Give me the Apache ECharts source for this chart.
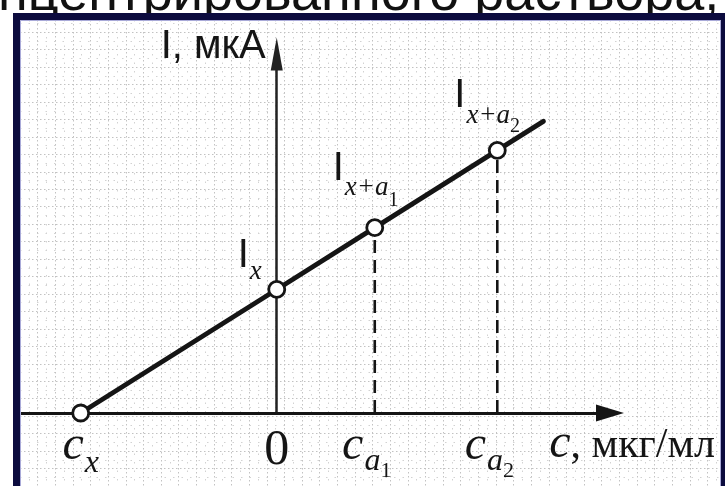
<!DOCTYPE html>
<html><head><meta charset="utf-8">
<script src="https://cdn.jsdelivr.net/npm/echarts@6/dist/echarts.min.js"></script>
<style>html,body{margin:0;padding:0;background:#fff;overflow:hidden}#c{width:725px;height:486px}</style>
</head><body><div id="c"></div>
<script>
// ---- data ----
const pointC = [-2, 0, 1, 2.25];          // concentration of marked points
const pointI = [0, 2, 3, 4.25];           // current of marked points
const lineEnd = [2.72, 4.72];             // end of the calibration line
const tickLabels = ['{c|c}{x|x}', '{z|0}', '{c|c}{a|a}{n|1}{sp|}', '{c|c}{a|a}{n|2}{sp|}'];
const pointLabels = ['', '{I|I}{s|x}', '{I|I}{s|x+a}{n|1}', '{I|I}{s|x+a}{n|2}'];
const yName = 'I, мкА';
const xName = '{c|c}{t|, мкг/мл}';
const headerText = 'нцентрированного раствора,';

// ---- styles ----
const INK = '#151515';
const SERIF = 'Liberation Serif';
const SANS = 'Liberation Sans';
const labelOffsets = [[0, 0], [-39, -53], [-42, -79], [-43, -74]];
const subPad = [0, 22, 26, 26];
const numPad = [0, 0, 42, 40];

const chart = echarts.init(document.getElementById('c'), null, {renderer: 'canvas'});

const linePts = pointC.map((c, i) => [c, pointI[i]]).concat([lineEnd]);

const scatterData = pointC.map((c, i) => ({
  value: [c, pointI[i]],
  label: {
    show: i > 0,
    formatter: pointLabels[i],
    position: 'inside',
    align: 'left',
    verticalAlign: 'top',
    offset: labelOffsets[i],
    rich: {
      I: {fontFamily: SANS, fontSize: 40, lineHeight: 40, verticalAlign: 'top', color: INK},
      s: {fontFamily: SERIF, fontStyle: 'italic', fontSize: 27, lineHeight: 27, verticalAlign: 'top', padding: [subPad[i], 0, 0, 1], color: INK},
      n: {fontFamily: SERIF, fontSize: 20, lineHeight: 20, verticalAlign: 'top', padding: [numPad[i], 0, 0, 0], color: INK}
    }
  }
}));

const dashSeries = [2, 3].map(i => ({
  type: 'line', xAxisIndex: 0, yAxisIndex: 0,
  data: [[pointC[i], 0], [pointC[i], pointI[i]]],
  symbol: 'none', silent: true, z: 3,
  lineStyle: {color: INK, width: 2.6, type: [13, 7]}
}));

const axisRich = {
  c: {fontFamily: SERIF, fontStyle: 'italic', fontSize: 48, lineHeight: 48, verticalAlign: 'top', color: INK},
  x: {fontFamily: SERIF, fontStyle: 'italic', fontSize: 32, lineHeight: 32, verticalAlign: 'top', padding: [26, 0, 0, 1], color: INK},
  a: {fontFamily: SERIF, fontStyle: 'italic', fontSize: 32, lineHeight: 32, verticalAlign: 'top', padding: [24, 0, 0, 1], color: INK},
  n: {fontFamily: SERIF, fontSize: 22, lineHeight: 22, verticalAlign: 'top', padding: [38, 0, 0, 0], color: INK},
  z: {fontFamily: SERIF, fontSize: 50, lineHeight: 50, verticalAlign: 'top', padding: [4, 0, 0, 0], color: INK},
  sp: {width: 16, lineHeight: 10, verticalAlign: 'top'},
  t: {fontFamily: SERIF, fontSize: 42, lineHeight: 42, verticalAlign: 'top', padding: [5, 0, 0, 0], color: INK}
};

const dotMajor = {color: '#c2c2c2', width: 1, type: [1.5, 2.5]};
const dotMinor = {color: '#d2d2d2', width: 1, type: [1.5, 7]};

const option = {
  backgroundColor: '#fff',
  animation: false,
  grid: [
    {left: 17, width: 593, top: 54, height: 359, outerBoundsMode: 'none', containLabel: false},
    {left: 20, right: 0, top: 20, bottom: 0, outerBoundsMode: 'none', containLabel: false}
  ],
  xAxis: [
    {
      type: 'value', gridIndex: 0, min: -2.65, max: 3.4,
      axisLine: {show: true, onZero: true, symbol: ['none', 'triangle'], symbolSize: [17, 28],
        lineStyle: {color: INK, width: 3}},
      axisTick: {show: false},
      splitLine: {show: false},
      axisLabel: {
        show: true, customValues: pointC, margin: 9,
        formatter: v => { const i = pointC.indexOf(v); return i >= 0 ? tickLabels[i] : ''; },
        rich: axisRich
      },
      name: xName, nameLocation: 'end', nameGap: 105,
      nameTextStyle: {align: 'right', verticalAlign: 'top', padding: [7, 0, 0, 0], rich: axisRich}
    },
    {
      type: 'value', gridIndex: 1, min: 0, max: 40, interval: 1,
      axisLine: {show: false}, axisTick: {show: false}, axisLabel: {show: false},
      splitLine: {show: true, lineStyle: dotMajor},
      minorTick: {show: false, splitNumber: 2},
      minorSplitLine: {show: true, lineStyle: dotMinor}
    }
  ],
  yAxis: [
    {
      type: 'value', gridIndex: 0, min: 0, max: 5.81,
      axisLine: {show: true, onZero: true, symbol: ['none', 'triangle'], symbolSize: [12, 33],
        lineStyle: {color: '#222', width: 2.5}},
      axisTick: {show: false}, axisLabel: {show: false}, splitLine: {show: false},
      name: yName, nameLocation: 'end', nameGap: 7,
      nameTextStyle: {align: 'right', verticalAlign: 'middle', padding: [0, 11, 0, 0],
        fontFamily: SANS, fontSize: 40, color: INK}
    },
    {
      type: 'value', gridIndex: 1, min: 0, max: 26.7, interval: 1,
      axisLine: {show: false}, axisTick: {show: false}, axisLabel: {show: false},
      splitLine: {show: true, lineStyle: dotMajor},
      minorTick: {show: false, splitNumber: 2},
      minorSplitLine: {show: true, lineStyle: dotMinor}
    }
  ],
  series: [
    {
      type: 'line', xAxisIndex: 0, yAxisIndex: 0, data: linePts,
      symbol: 'none', silent: true, z: 4,
      lineStyle: {color: INK, width: 4.8, cap: 'round'}
    },
    ...dashSeries,
    {
      type: 'scatter', xAxisIndex: 0, yAxisIndex: 0, data: scatterData,
      symbol: 'circle', symbolSize: 16, z: 6, silent: true,
      itemStyle: {color: '#fff', borderColor: INK, borderWidth: 2.8, opacity: 1}
    }
  ],
  graphic: [
    {type: 'text', left: -2, top: -32, z: 50,
      style: {text: headerText, font: '54px "Liberation Sans"', fill: '#111'}},
    {type: 'rect', z: 100, silent: true,
      shape: {x: 16.5, y: 16.5, width: 708, height: 520},
      style: {fill: 'none', stroke: '#0c0b3e', lineWidth: 7}},
    {type: 'rect', z: 100, silent: true,
      shape: {x: 20.5, y: 20.5, width: 700, height: 520},
      style: {fill: 'none', stroke: '#a9aad8', lineWidth: 1}}
  ]
};
chart.setOption(option);
</script>
</body></html>
